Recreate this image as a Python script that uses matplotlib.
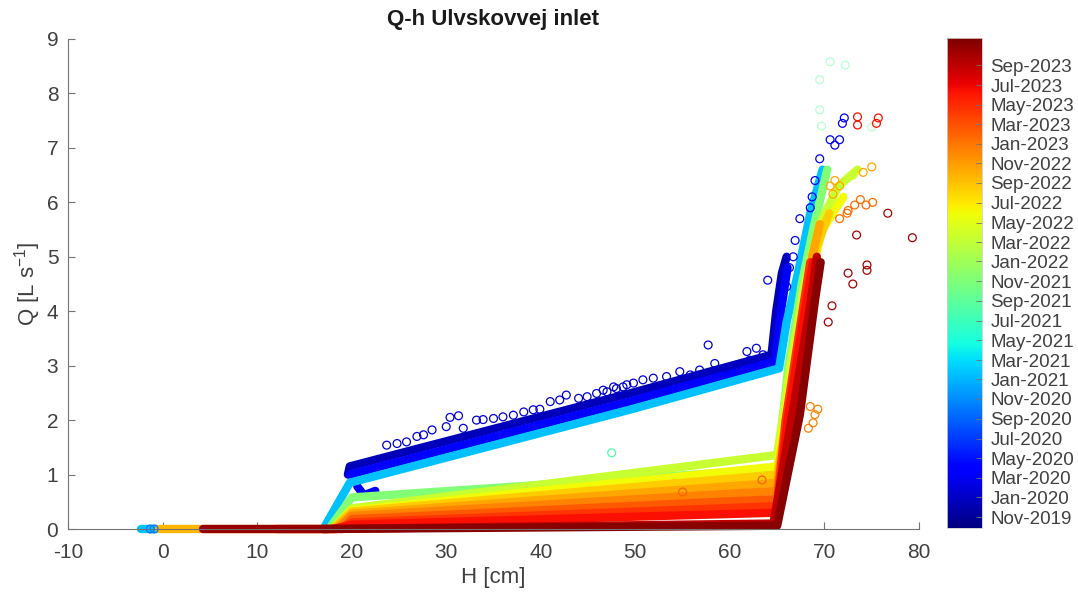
import numpy as np
import pandas as pd
import matplotlib
matplotlib.use('Agg')
import matplotlib.pyplot as plt
import matplotlib.dates as mdates
from matplotlib import cm, colors

plt.rcParams['font.family'] = ['Liberation Sans', 'DejaVu Sans']
plt.rcParams['mathtext.fontset'] = 'custom'
plt.rcParams['mathtext.rm'] = 'Liberation Sans'
plt.rcParams['mathtext.it'] = 'Liberation Sans:italic'
plt.rcParams['axes.unicode_minus'] = False

# colour scale limits (dates)
DATE_MIN = '2019-09-28'
DATE_MAX = '2023-11-24'
cbar_ticks = pd.date_range('2019-11-01', '2023-09-01', freq='2MS')

# dense bands of overlapping points, read as knots (H [cm], Q [L/s]) per period
band_dates = ['2019-12-15', '2020-03-01', '2020-04-01', '2021-01-15', '2021-01-20',
              '2021-11-01', '2022-03-15', '2022-06-01', '2022-09-20', '2022-08-15',
              '2022-10-15', '2022-12-15', '2023-02-15', '2023-04-15', '2023-06-01',
              '2023-06-15', '2023-09-01', '2023-10-20', '2023-11-10']
band_h = [
    [19.6, 19.8, 49.4, 64.4, 64.9, 65.5, 66.0],
    [20.6, 21.3, 22.5],
    [19.8, 49.4, 64.8, 65.4, 66.1],
    [-2.3, -0.6],
    [17.0, 19.8, 49.4, 65.2, 66.0, 67.2, 68.5, 69.8],
    [17.6, 20.0, 65.0, 66.2, 67.6, 68.8, 70.3],
    [18.0, 20.0, 65.0, 66.4, 67.9, 69.5, 71.5, 73.5],
    [18.0, 20.0, 65.0, 66.5, 68.0, 69.8, 72.0],
    [-0.4, 18.5],
    [18.0, 20.0, 65.0, 66.3, 67.8, 69.2, 70.5],
    [18.3, 20.0, 65.0, 66.0, 67.6, 68.7, 69.5],
    [18.5, 20.0, 65.0, 66.0, 67.5, 68.5],
    [19.0, 20.0, 65.0, 66.0, 67.6, 68.6],
    [19.0, 20.0, 65.0, 65.9, 67.5, 68.5],
    [12.0, 19.0],
    [18.0, 20.0, 65.0, 66.1, 67.9, 68.8],
    [17.0, 64.6, 66.6, 68.4, 69.2],
    [4.3, 17.5],
    [17.0, 65.0, 67.4, 69.0, 69.6],
]
band_q = [
    [1.0, 1.15, 2.49, 3.2, 4.0, 4.7, 5.0],
    [0.78, 0.62, 0.7],
    [1.0, 2.34, 3.08, 4.0, 4.8],
    [0.0, 0.0],
    [0.0, 0.85, 2.19, 2.95, 3.8, 4.7, 5.8, 6.6],
    [0.0, 0.58, 1.1, 3.0, 4.5, 5.5, 6.6],
    [0.0, 0.38, 1.36, 3.0, 4.5, 5.6, 6.3, 6.6],
    [0.0, 0.34, 1.15, 2.8, 4.3, 5.5, 6.1],
    [0.0, 0.0],
    [0.0, 0.32, 1.0, 2.4, 4.0, 5.2, 5.8],
    [0.0, 0.28, 0.85, 2.0, 3.8, 5.0, 5.6],
    [0.0, 0.24, 0.7, 2.0, 3.6, 4.8],
    [0.0, 0.18, 0.55, 2.0, 3.6, 4.9],
    [0.0, 0.12, 0.42, 2.0, 3.8, 4.9],
    [0.0, 0.0],
    [0.0, 0.08, 0.3, 2.0, 4.0, 4.9],
    [0.0, 0.1, 2.1, 4.0, 5.0],
    [0.0, 0.0],
    [0.0, 0.06, 2.1, 4.2, 4.9],
]

# single scattered observations
pts_dates = ['2020-01-15', '2020-03-01', '2020-10-01', '2021-08-01', '2021-09-01',
             '2022-04-01', '2022-10-15', '2022-12-15', '2023-01-15', '2023-02-01',
             '2023-06-15', '2023-10-01']
pts_h = [
    [23.7, 24.8, 25.8, 26.9, 27.6, 28.5, 30.4, 31.3, 30.0, 31.8, 33.2, 33.9, 35.0,
     36.0, 37.1, 38.2, 39.2, 39.9, 41.0, 42.0, 42.7, 44.0, 44.9, 45.9, 47.0, 48.0,
     49.1, 46.6, 47.7, 48.7, 49.8, 50.8, 51.9, 53.3, 54.7, 55.8, 56.8, 57.7, 58.4,
     59.7, 60.7, 61.8, 62.8, 63.5, 62.1],
    [72.1, 71.9, 71.1, 71.6, 70.6, 69.5, 69.0, 68.7, 68.5, 67.4, 66.9, 66.7, 66.3,
     66.0, 64.0],
    [-0.9, -1.3],
    [47.5],
    [69.5, 70.6, 72.2, 69.5, 69.7, 75.0],
    [73.0],
    [70.6, 71.1, 71.6, 70.9, 74.1, 75.0],
    [68.5, 69.0, 68.8, 68.3, 69.3],
    [72.5, 73.2, 73.8, 74.4, 75.1, 71.6, 72.4],
    [63.4, 55.0],
    [73.5, 73.5, 75.7, 75.5],
    [72.5, 74.5, 74.5, 73.0, 79.3, 73.4, 76.7, 70.8, 70.4],
]
pts_q = [
    [1.54, 1.57, 1.60, 1.70, 1.73, 1.82, 2.05, 2.08, 1.88, 1.85, 2.00, 2.01, 2.03,
     2.06, 2.09, 2.15, 2.19, 2.20, 2.34, 2.37, 2.46, 2.40, 2.43, 2.49, 2.52, 2.58,
     2.65, 2.55, 2.61, 2.61, 2.68, 2.74, 2.77, 2.80, 2.89, 2.83, 2.92, 3.38, 3.04,
     2.95, 3.01, 3.26, 3.32, 3.20, 3.10],
    [7.55, 7.45, 7.05, 7.15, 7.15, 6.8, 6.4, 6.1, 5.9, 5.7, 5.3, 5.0, 4.8, 4.45, 4.57],
    [0.0, 0.0],
    [1.4],
    [8.25, 8.58, 8.52, 7.7, 7.4, 7.38],
    [6.5],
    [6.3, 6.4, 6.3, 6.15, 6.55, 6.65],
    [2.25, 2.1, 1.95, 1.85, 2.2],
    [5.85, 5.95, 6.05, 5.95, 6.0, 5.7, 5.8],
    [0.9, 0.68],
    [7.57, 7.42, 7.55, 7.45],
    [4.7, 4.75, 4.85, 4.5, 5.35, 5.4, 5.8, 4.1, 3.8],
]

cmap = matplotlib.colormaps['jet']
norm = colors.Normalize(mdates.date2num(pd.Timestamp(DATE_MIN)),
                        mdates.date2num(pd.Timestamp(DATE_MAX)))


def date_color(d):
    return cmap(norm(mdates.date2num(pd.Timestamp(d))))


fig = plt.figure(figsize=(10.78, 5.97), dpi=100)
ax = fig.add_axes([0.0631, 0.1139, 0.7894, 0.8208])
cax = fig.add_axes([0.8785, 0.1156, 0.0325, 0.8208])

# bands drawn in time order so later periods sit on top
for i in np.argsort([pd.Timestamp(d) for d in band_dates]):
    ax.plot(band_h[i], band_q[i], color=date_color(band_dates[i]), lw=6,
            solid_capstyle='round', solid_joinstyle='round', clip_on=False, zorder=2)

for d, h, q in zip(pts_dates, pts_h, pts_q):
    a = 0.45 if d == '2021-09-01' else 1.0
    ax.scatter(h, q, s=32, facecolors='none', edgecolors=[date_color(d)],
               linewidths=0.9, alpha=a, clip_on=False, zorder=3)

ax.set_xlim(-10, 80)
ax.set_ylim(0, 9)
ax.set_xticks(np.arange(-10, 81, 10))
ax.set_yticks(np.arange(0, 10, 1))
for s in ['top', 'right']:
    ax.spines[s].set_visible(False)
for s in ['left', 'bottom']:
    ax.spines[s].set_color('0.45')
    ax.spines[s].set_linewidth(0.8)
ax.tick_params(direction='in', length=5, width=0.8, color='0.45',
               labelcolor='0.25', labelsize=15)
ax.tick_params(axis='x', pad=10)
ax.tick_params(axis='y', pad=7)

fig.text(493 / 1078, 1 - 20 / 597, 'Q-h Ulvskovvej inlet', ha='center', va='center',
         fontsize=16, fontweight='bold', color='0.1')
fig.text(493 / 1078, 1 - 578 / 597, 'H [cm]', ha='center', va='center',
         fontsize=16, color='0.25')
fig.text(28 / 1078, 1 - 284 / 597, r'Q [L s$^{\mathrm{-1}}$]', ha='center', va='center',
         rotation=90, fontsize=16, color='0.25')

# colour bar
sm = cm.ScalarMappable(norm=norm, cmap=cmap)
cb = fig.colorbar(sm, cax=cax)
cb.set_ticks(mdates.date2num(cbar_ticks))
cb.set_ticklabels([t.strftime('%b-%Y') for t in cbar_ticks])
cb.ax.tick_params(direction='in', length=4, width=0.6, color='0.45',
                  labelcolor='0.25', labelsize=13.5, pad=6)
cb.outline.set_edgecolor('0.8')
cb.outline.set_linewidth(0.6)

fig.savefig('out.png', dpi=100)
